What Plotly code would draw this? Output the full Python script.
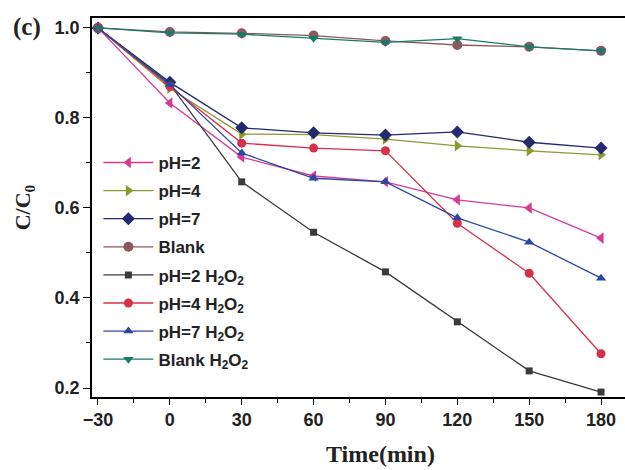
import plotly.graph_objects as go

time_min = [-30, 0, 30, 60, 90, 120, 150, 180]

ph2 = [1.0, 0.833, 0.713, 0.671, 0.658, 0.618, 0.600, 0.533]
ph4 = [1.0, 0.866, 0.764, 0.763, 0.753, 0.738, 0.727, 0.718]
ph7 = [1.0, 0.879, 0.778, 0.767, 0.762, 0.769, 0.746, 0.733]
blank = [1.0, 0.991, 0.988, 0.983, 0.971, 0.962, 0.958, 0.949]
ph2_h2o2 = [1.0, 0.875, 0.658, 0.546, 0.458, 0.347, 0.238, 0.191]
ph4_h2o2 = [1.0, 0.870, 0.744, 0.733, 0.727, 0.566, 0.455, 0.276]
ph7_h2o2 = [1.0, 0.874, 0.722, 0.666, 0.658, 0.578, 0.524, 0.444]
blank_h2o2 = [1.0, 0.989, 0.986, 0.977, 0.968, 0.976, 0.958, 0.949]

series_names = ["pH=2", "pH=4", "pH=7", "Blank",
                "pH=2 H<sub>2</sub>O<sub>2</sub>", "pH=4 H<sub>2</sub>O<sub>2</sub>",
                "pH=7 H<sub>2</sub>O<sub>2</sub>", "Blank H<sub>2</sub>O<sub>2</sub>"]
series_values = [ph2, ph4, ph7, blank, ph2_h2o2, ph4_h2o2, ph7_h2o2, blank_h2o2]
colors = ["#d83a92", "#8c9a30", "#232a6e", "#8a5a5e",
          "#3a3a3a", "#d8304a", "#2a48a0", "#1a7a6a"]
symbols = ["triangle-left", "triangle-right", "diamond", "circle",
           "square", "circle", "triangle-up", "triangle-down"]
sizes = [10, 10, 10, 10, 7, 9, 9, 9]

fig = go.Figure()
for i, (name, vals, c, s, sz) in enumerate(zip(series_names, series_values, colors, symbols, sizes)):
    fig.add_trace(go.Scatter(
        x=time_min, y=vals, name=name, mode="lines+markers",
        legendgroup=f"g{i}",
        line=dict(color=c, width=1.3),
        marker=dict(symbol=s, size=sz, color=c),
    ))

tick_font = dict(family="Liberation Sans", size=18, color="#222", weight="bold")

fig.update_layout(
    width=625, height=470,
    margin=dict(l=92, r=0, t=18, b=73),
    paper_bgcolor="white", plot_bgcolor="white",
    showlegend=True,
    legend=dict(
        x=0.012, y=0.665, xanchor="left", yanchor="top",
        bgcolor="rgba(0,0,0,0)",
        font=dict(family="Liberation Sans", size=17, color="#222", weight="bold"),
        itemwidth=50, tracegroupgap=3,
    ),
    xaxis=dict(
        range=[-32.5, 190], tickvals=[-30, 0, 30, 60, 90, 120, 150, 180],
        showline=True, linecolor="black", linewidth=1.6, mirror=True,
        ticks="outside", ticklen=6, tickwidth=1.4, tickcolor="black",
        minor=dict(ticks="outside", ticklen=4, tickwidth=1.2, dtick=15, tick0=-30, tickcolor="black"),
        showgrid=False, zeroline=False,
        tickfont=tick_font,
    ),
    yaxis=dict(
        range=[0.18, 1.022], tickvals=[0.2, 0.4, 0.6, 0.8, 1.0], ticktext=["0.2", "0.4", "0.6", "0.8", "1.0"],
        showline=True, linecolor="black", linewidth=1.6, mirror=False,
        ticks="outside", ticklen=7, tickwidth=1.4, tickcolor="black",
        minor=dict(ticks="outside", ticklen=4, tickwidth=1.2, dtick=0.1, tick0=0.2, tickcolor="black"),
        showgrid=False, zeroline=False,
        tickfont=tick_font,
    ),
)

fig.add_annotation(text="<b>Time(min)</b>", xref="paper", yref="paper",
                   x=0.542, y=-0.15, xanchor="center", yanchor="middle", showarrow=False,
                   font=dict(family="Liberation Serif", size=24, color="#222"))
fig.add_annotation(text="<b>C/C<sub>0</sub></b>", xref="paper", yref="paper",
                   x=-0.128, y=0.50, xanchor="center", yanchor="middle", showarrow=False,
                   textangle=-90, font=dict(family="Liberation Serif", size=22, color="#222"))
fig.add_annotation(text="<b>(c)</b>", xref="paper", yref="paper",
                   x=-0.152, y=0.975, xanchor="left", yanchor="middle", showarrow=False,
                   font=dict(family="Liberation Serif", size=25, color="#222"))

fig.write_html("out.html")
